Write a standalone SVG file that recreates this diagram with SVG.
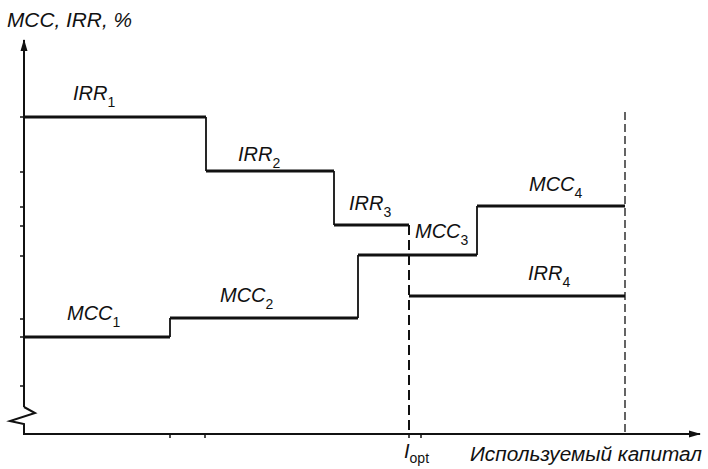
<svg xmlns="http://www.w3.org/2000/svg" width="708" height="469" viewBox="0 0 708 469">
<style>
.t{font-family:"Liberation Sans",Arial,sans-serif;font-size:20px;font-style:italic;fill:#111}
.s{font-size:14px;font-style:normal}
.h{stroke:#111;stroke-width:3;fill:none}
.v{stroke:#111;stroke-width:1.8;fill:none}
.ax{stroke:#111;stroke-width:2;fill:none}
.tk{stroke:#111;stroke-width:1.5}
</style>
<defs>
<marker id="arr" markerWidth="12" markerHeight="8" refX="11" refY="4" orient="auto" markerUnits="userSpaceOnUse">
<path d="M0,0.5 L12,4 L0,7.5 Z" fill="#111"/>
</marker>
</defs>
<rect width="708" height="469" fill="#fff"/>
<g id="axes">
<path class="ax" d="M24,407 L24,40" marker-end="url(#arr)"/>
<path class="ax" d="M24,407 L35,413 L10,421 L24,424 L24,434 L700,434" marker-end="url(#arr)"/>
<g class="tk">
<line x1="20" y1="117" x2="24" y2="117"/>
<line x1="20" y1="172" x2="24" y2="172"/>
<line x1="20" y1="207" x2="24" y2="207"/>
<line x1="20" y1="226" x2="24" y2="226"/>
<line x1="20" y1="256" x2="24" y2="256"/>
<line x1="20" y1="319" x2="24" y2="319"/>
<line x1="20" y1="337" x2="24" y2="337"/>
<line x1="20" y1="386" x2="24" y2="386"/>
<line x1="170" y1="434" x2="170" y2="438"/>
<line x1="205" y1="434" x2="205" y2="438"/>
<line x1="409" y1="434" x2="409" y2="438"/>
<line x1="421" y1="434" x2="421" y2="438"/>
</g>
<text class="t" x="7" y="27" textLength="125" lengthAdjust="spacingAndGlyphs">MCC, IRR, %</text>
<text class="t" x="404" y="458">I<tspan class="s" dy="5">opt</tspan></text>
<text class="t" x="470" y="461" textLength="232" lengthAdjust="spacingAndGlyphs">Используемый капитал</text>
</g>
<g id="connectors">
<line x1="409" y1="225" x2="409" y2="434" stroke="#111" stroke-width="2" stroke-dasharray="10,5"/>
<line x1="625" y1="112" x2="625" y2="434" stroke="#111" stroke-width="1.3" stroke-dasharray="8,4"/>
</g>
<g id="irr">
<path class="v" d="M206,117 V171 M334,171 V225"/>
<path class="h" d="M24,117 H206 M206,171 H334 M334,225 H409"/>
<path class="h" d="M409,296 H625"/>
</g>
<g id="mcc">
<path class="v" d="M170,337 V318 M358,318 V255 M477,255 V206"/>
<path class="h" d="M24,337 H170 M170,318 H358 M358,255 H477 M477,206 H625"/>
</g>
<g id="labels">
<text class="t" x="73" y="100">IRR<tspan class="s" dy="7">1</tspan></text>
<text class="t" x="238" y="161">IRR<tspan class="s" dy="7">2</tspan></text>
<text class="t" x="349" y="210">IRR<tspan class="s" dy="7">3</tspan></text>
<text class="t" x="528" y="280">IRR<tspan class="s" dy="7">4</tspan></text>
<text class="t" x="67" y="320">MCC<tspan class="s" dy="7">1</tspan></text>
<text class="t" x="220" y="302">MCC<tspan class="s" dy="7">2</tspan></text>
<text class="t" x="415" y="238">MCC<tspan class="s" dy="7">3</tspan></text>
<text class="t" x="529" y="191">MCC<tspan class="s" dy="7">4</tspan></text>
</g>
</svg>
